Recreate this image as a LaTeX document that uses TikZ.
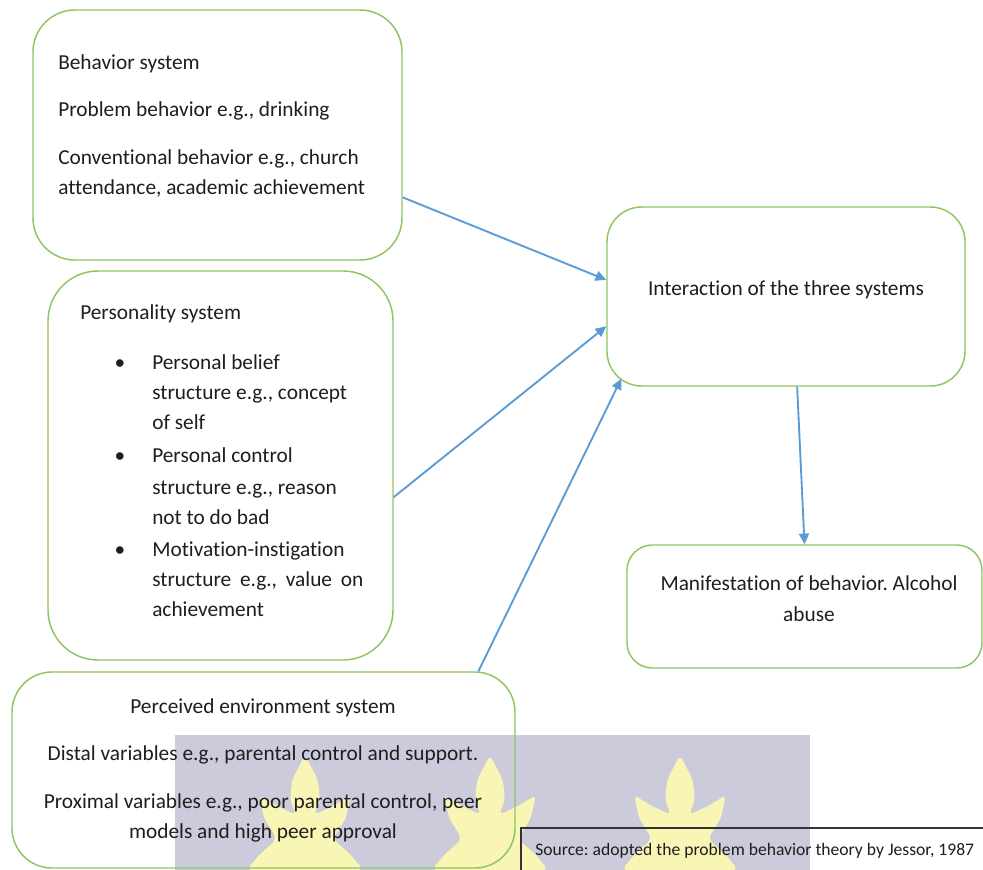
\documentclass[tikz,border=0pt]{standalone}
\usepackage{fontspec}
\setmainfont[Ligatures={NoCommon}]{Carlito}
\usetikzlibrary{arrows.meta,fit,calc}
\definecolor{boxgreen}{HTML}{8DC663}
\definecolor{arrowblue}{HTML}{5B9BD5}
\definecolor{wmback}{HTML}{CBCBDC}
\definecolor{wmleaf}{HTML}{F8F5B5}
\definecolor{txtcol}{HTML}{1E1E1E}
\frenchspacing
\begin{document}
\begin{tikzpicture}[x=0.75pt,y=-0.75pt,
  sysbox/.style={draw=boxgreen, line width=1.1pt, rounded corners=#1, inner sep=0pt},
  txt/.style={inner sep=0pt, font=\fontsize{16}{19}\selectfont\frenchspacing, text=txtcol},
  srctxt/.style={inner sep=0pt, font=\fontsize{13.2}{16}\selectfont\frenchspacing, text=txtcol},
  link/.style={draw=arrowblue, line width=1.4pt, -{Triangle[length=8pt,width=7.5pt]}},
  leaf/.style={fill=wmleaf, rounded corners=4pt}]
\useasboundingbox (0,0) rectangle (983,870);
\clip (0,0) rectangle (983,870);
\fill[white] (0,0) rectangle (983,870);
% watermark
\fill[wmback] (175,735) rectangle (810,870);
\foreach \cx in {305,490,680}{
  \fill[leaf, shift={(\cx,755)}] (0,0) -- (13,25) -- (15,45) -- (9,60) -- (30,50) -- (46,40)
    -- (41,63) -- (28,84) -- (46,100) -- (58,115)
    -- (-58,115) -- (-46,100) -- (-28,84) -- (-41,63) -- (-46,40) -- (-30,50) -- (-9,60)
    -- (-15,45) -- (-13,25) -- cycle;
}
% boxes
\node[sysbox=31.5pt, fit={(33,10) (402,260)}] (behav) {};
\node[sysbox=37.5pt, fit={(48,271) (393,660)}] (person) {};
\node[sysbox=30pt, fit={(12,672) (515,868)}] (env) {};
\node[sysbox=26pt, fit={(607,207) (965,386)}] (inter) {};
\node[sysbox=19pt, fit={(627,545) (982,668)}] (manif) {};
\node[draw=black!80, line width=1.1pt, inner sep=0pt, fit={(521,828) (1000,890)}] (source) {};
% texts
\node[txt, anchor=base west] (b1a) at (58,70) {Behavior system};
\node[txt, anchor=base west] (b1b) at (58,117) {Problem behavior e.g., drinking};
\node[txt, anchor=base west] (b1c) at (58,165) {Conventional behavior e.g., church};
\node[txt, anchor=base west] (b1d) at (58,195) {attendance, academic achievement};
\node[txt, anchor=base west] (b2a) at (80,320) {Personality system};
\node[txt, anchor=base] (bul1) at (120,369) {•};
\node[txt, anchor=base] (bul2) at (120,462) {•};
\node[txt, anchor=base] (bul3) at (120,556) {•};
\node[txt, anchor=base west] (b2b) at (152,369) {Personal belief};
\node[txt, anchor=base west] (b2c) at (152,399) {structure e.g., concept};
\node[txt, anchor=base west] (b2d) at (152,430) {of self};
\node[txt, anchor=base west] (b2e) at (152,462) {Personal control};
\node[txt, anchor=base west] (b2f) at (152,494) {structure e.g., reason};
\node[txt, anchor=base west] (b2g) at (152,524) {not to do bad};
\node[txt, anchor=base west] (b2h) at (152,556) {Motivation-instigation};
\node[txt, anchor=base west] (b2i) at (152,586) {\makebox[158.25pt][s]{structure e.g., value on}};
\node[txt, anchor=base west] (b2j) at (152,616) {achievement};
\node[txt, anchor=base] (b3a) at (263,713) {Perceived environment system};
\node[txt, anchor=base] (b3b) at (263,760) {Distal variables e.g., parental control and support.};
\node[txt, anchor=base] (b3c) at (263,808) {Proximal variables e.g., poor parental control, peer};
\node[txt, anchor=base] (b3d) at (263,838) {models and high peer approval};
\node[txt, anchor=base] (b4a) at (786,296) {Interaction of the three systems};
\node[txt, anchor=base] (b5a) at (809,590) {Manifestation of behavior. Alcohol};
\node[txt, anchor=base] (b5b) at (809,621) {abuse};
\node[srctxt, anchor=base west] (srct) at (535,855) {Source: adopted the problem behavior theory by Jessor, 1987};
% arrows
\draw[link] ($(behav.north east)!0.748!(behav.south east)$) -- ($(inter.north west)!0.408!(inter.south west)$);
\draw[link] ($(person.north east)!0.581!(person.south east)$) -- ($(inter.north west)!0.665!(inter.south west)$);
\draw[link] ($(env.north west)!0.926!(env.north east)$) -- ($(inter.south west)+(15,-8)$);
\draw[link] ($(inter.south west)!0.531!(inter.south east)$) -- ($(manif.north west)!0.5!(manif.north east)$);
\end{tikzpicture}
\end{document}
